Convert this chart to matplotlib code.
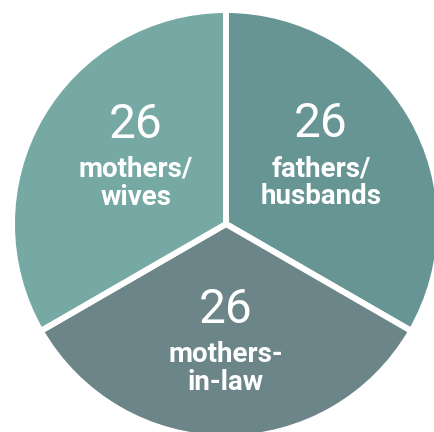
import matplotlib.pyplot as plt

labels = [["fathers/", "husbands"], ["mothers-", "in-law"], ["mothers/", "wives"]]
values = [26, 26, 26]
colors = ["#679594", "#6B8589", "#77A9A4"]

W, H = 435, 432

fig = plt.figure(figsize=(W / 100, H / 100), dpi=100)
ax = fig.add_axes([0, 0, 1, 1])

cx, cy, r = 226, H - 224, 214
ax.pie(values, colors=colors, startangle=90, counterclock=False,
       center=(cx, cy), radius=r, frame=True,
       wedgeprops=dict(edgecolor="white", linewidth=4.3))
ax.set_xlim(0, W)
ax.set_ylim(0, H)
ax.set_aspect("equal")
ax.axis("off")

# text anchors: x centre, baseline of number (pixels from top)
anchors = [(321, 137), (226, 323), (136, 138)]
for (x, y), v, lines in zip(anchors, values, labels):
    ax.text(x, H - y, str(v), ha="center", va="baseline", color="white",
            fontsize=34.5, family="Roboto")
    for i, line in enumerate(lines):
        ax.text(x, H - (y + 39 + 28 * i), line, ha="center", va="baseline",
                color="white", fontsize=20, family="Roboto", fontweight="bold")

fig.savefig("out.png", dpi=100)
